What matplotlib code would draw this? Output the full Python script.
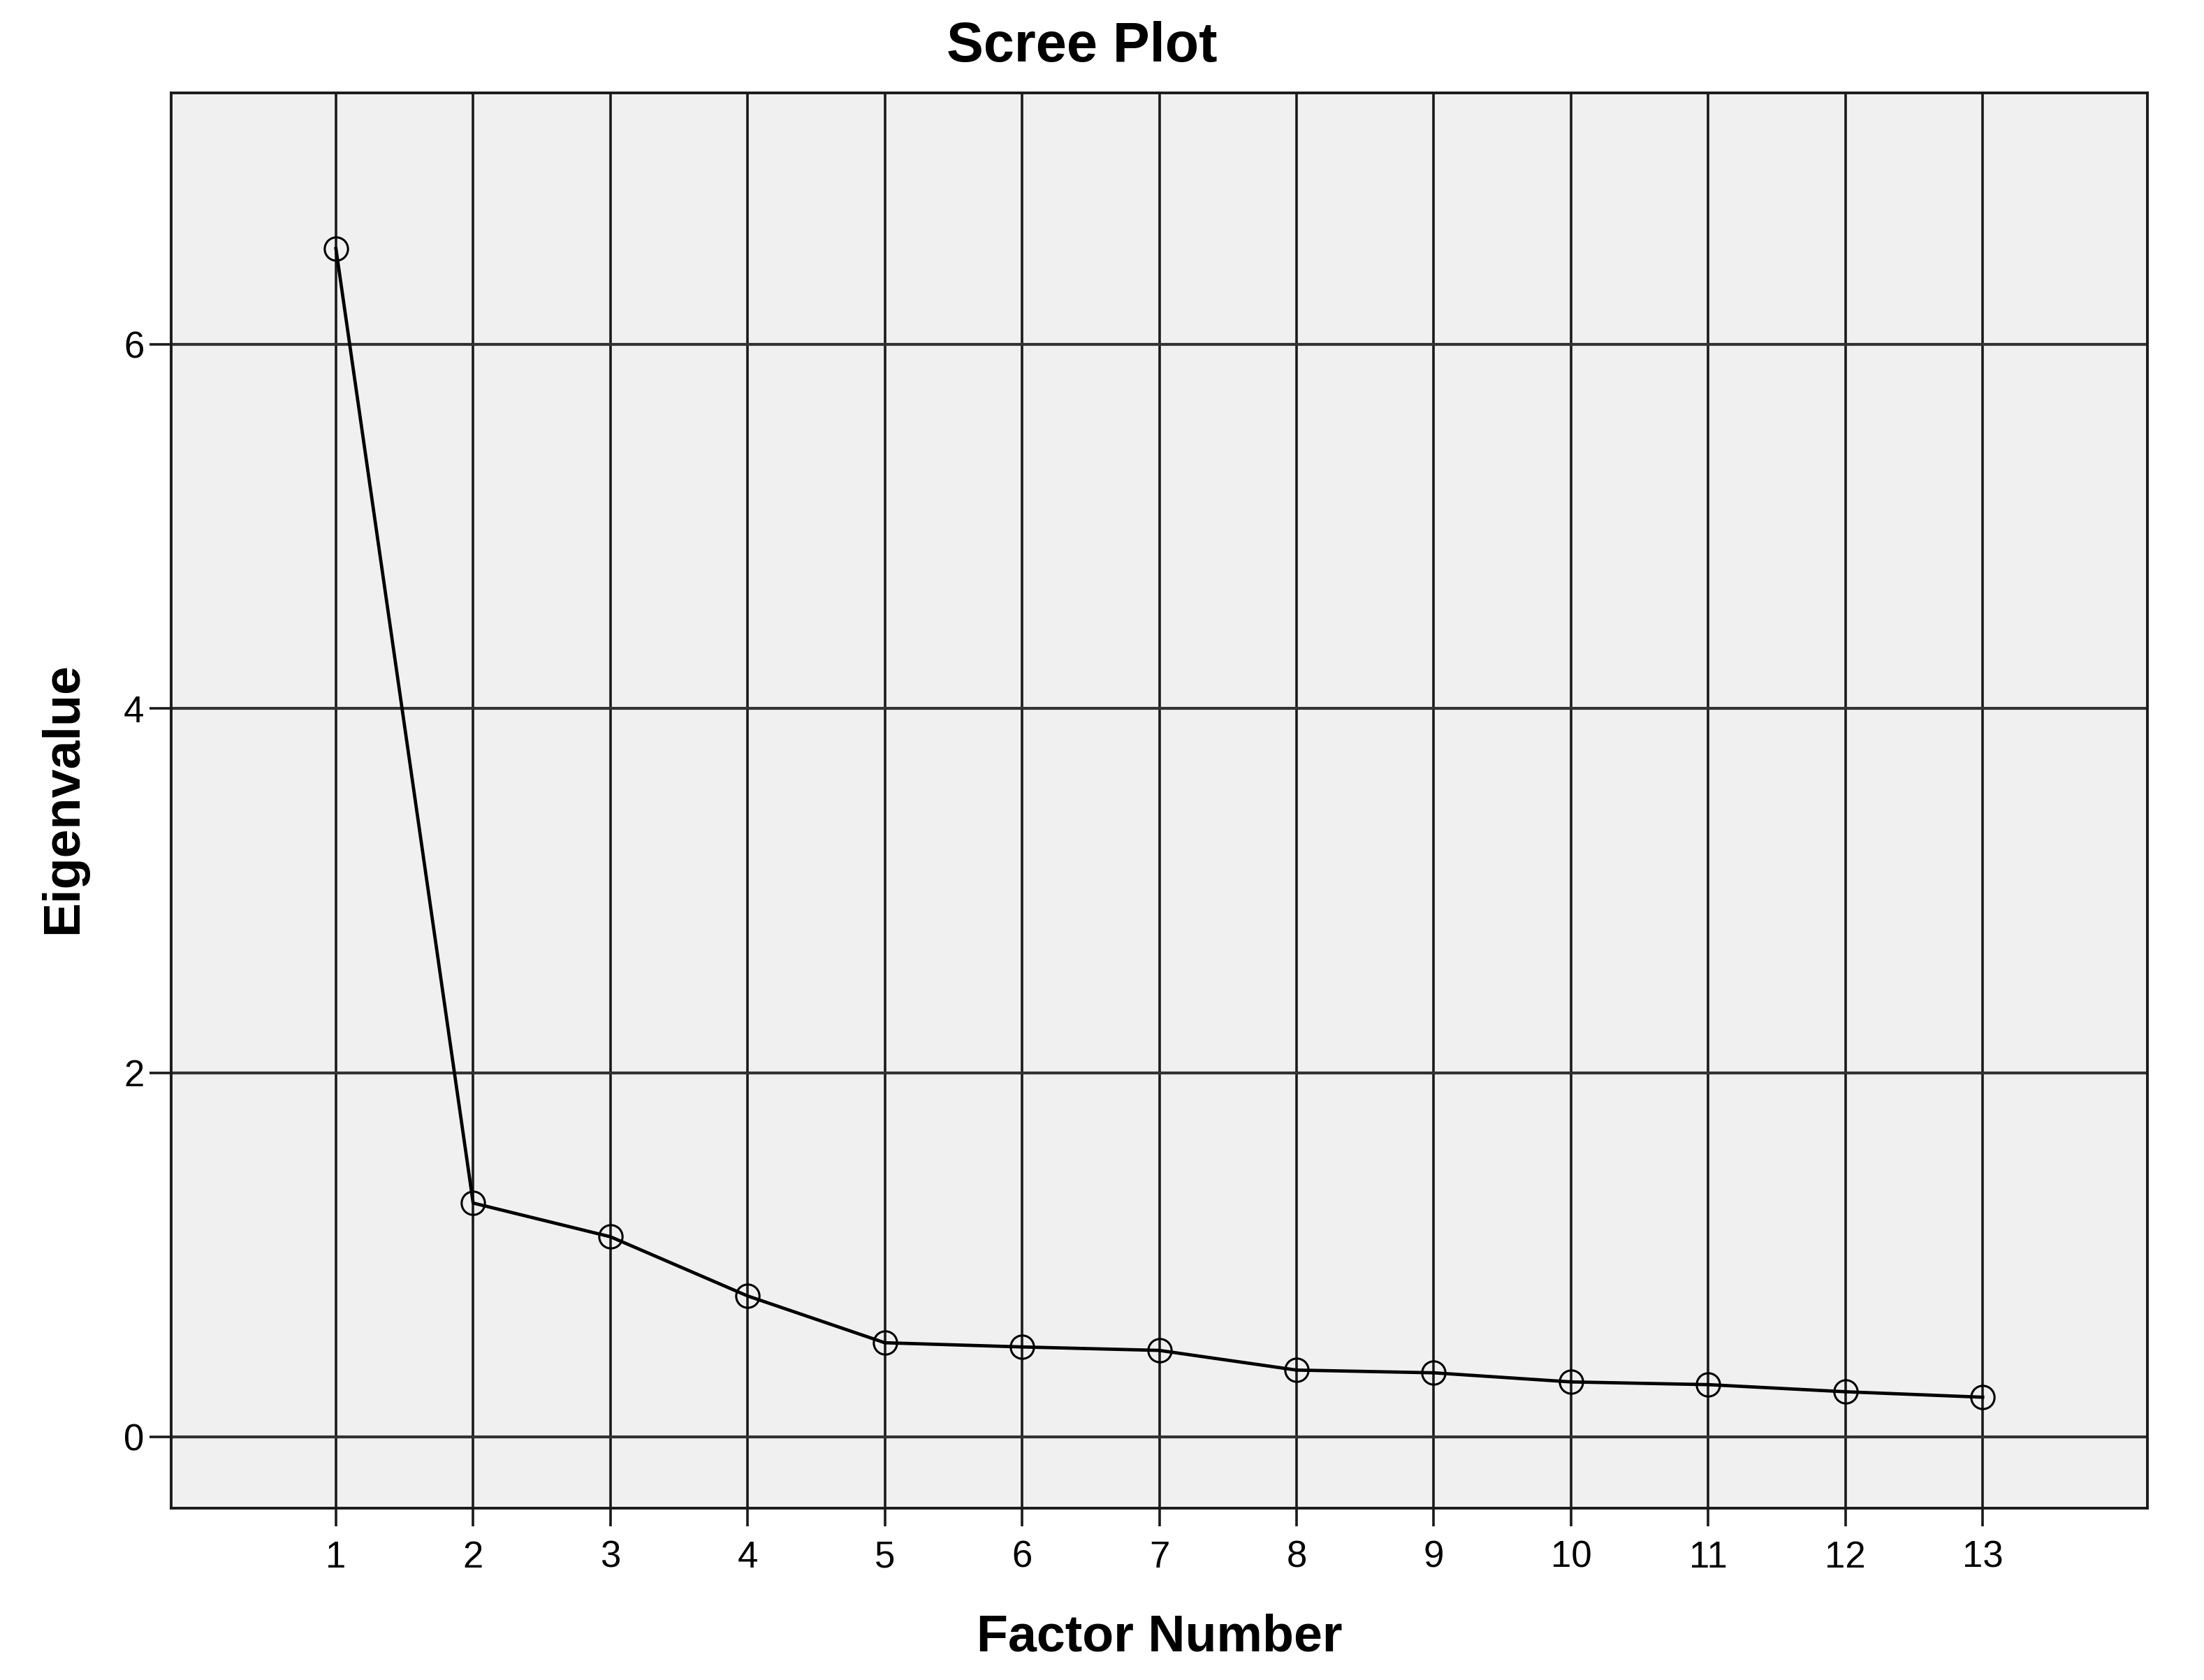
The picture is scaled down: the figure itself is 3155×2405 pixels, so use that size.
import matplotlib
matplotlib.use("Agg")
import matplotlib.pyplot as plt

# --- data ---
factor_number = [1, 2, 3, 4, 5, 6, 7, 8, 9, 10, 11, 12, 13]
eigenvalue = [6.525, 1.285, 1.10, 0.775, 0.518, 0.495, 0.476,
              0.368, 0.353, 0.303, 0.288, 0.249, 0.219]
y_ticks = [0, 2, 4, 6]

plt.rcParams['font.family'] = ['Liberation Sans', 'DejaVu Sans']

fig = plt.figure(figsize=(31.55, 24.05), dpi=100)
fig.patch.set_facecolor('white')
ax = fig.add_axes([0.0777, 0.1023, 0.8966, 0.8424])
ax.set_facecolor('#f0f0f0')

# grid lines (vertical at every factor, horizontal at y ticks)
for x in factor_number:
    ax.axvline(x, color='#1a1a1a', linewidth=2.6, zorder=1)
for y in y_ticks:
    ax.axhline(y, color='#333333', linewidth=3.0, zorder=1)

ax.plot(factor_number, eigenvalue, color='black', linewidth=3.4,
        marker='o', markersize=24, markerfacecolor='none',
        markeredgecolor='black', markeredgewidth=2.2, zorder=3)

ax.set_xlim(-0.2, 14.2)
ax.set_ylim(-0.39, 7.38)
ax.set_xticks(factor_number)
ax.set_xticklabels([str(v) for v in factor_number])
ax.set_yticks(y_ticks)
ax.set_yticklabels([str(v) for v in y_ticks])

ax.tick_params(axis='x', direction='out', length=19, width=2.6,
               labelsize=38, pad=14, color='#1a1a1a')
ax.tick_params(axis='y', direction='out', length=22, width=2.6,
               labelsize=38, pad=6, color='#1a1a1a')

for sp in ax.spines.values():
    sp.set_color('#1a1a1a')
    sp.set_linewidth(2.8)

fig.text(0.491, 0.972, "Scree Plot", ha='center', va='center',
         fontsize=57, fontweight='bold')
fig.text(0.526, 0.0254, "Factor Number", ha='center', va='center',
         fontsize=53, fontweight='bold')
fig.text(0.0286, 0.525, "Eigenvalue", ha='center', va='center',
         rotation=90, fontsize=53, fontweight='bold')

fig.savefig("out.png", dpi=100)
plt.close(fig)
